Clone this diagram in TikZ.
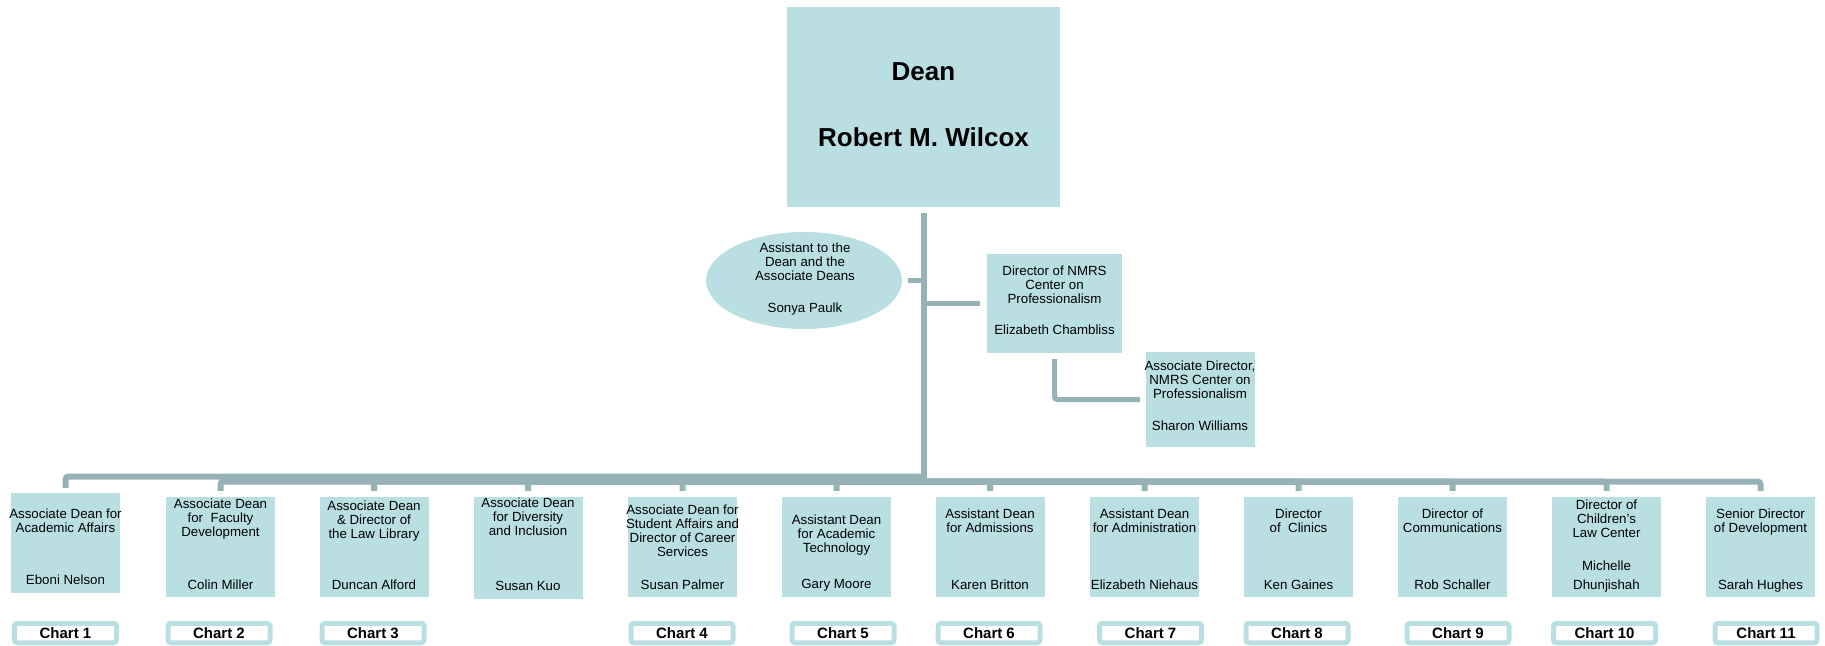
\documentclass[tikz,border=0pt]{standalone}
\usepackage{fontspec}
\setmainfont{Liberation Sans}
\usepackage{tikz}
\usetikzlibrary{calc,shapes.geometric}
\definecolor{boxfill}{RGB}{186,223,227}
\definecolor{linkgray}{RGB}{149,179,183}
\tikzset{
	unit/.style={fill=boxfill, minimum width=109bp, minimum height=100bp, inner sep=0pt},
	ttl/.style={anchor=north, align=center, inner sep=0pt, font=\fontsize{13.3bp}{14.3bp}\selectfont},
	chart/.style={draw=boxfill, fill=white, line width=5bp, rounded corners=3bp, minimum width=102bp, minimum height=19.5bp, inner sep=0pt, font=\fontsize{15bp}{18bp}\selectfont\bfseries},
	link/.style={draw=linkgray, line width=6bp, rounded corners=3bp},
	sidelink/.style={draw=linkgray, line width=5bp, rounded corners=3bp}
}

\begin{document}
\begin{tikzpicture}[x=1bp, y=-1bp]
			%%%%% START %%%%%
			\useasboundingbox (0,0) rectangle (1825,646);
			
			\node[fill=boxfill, minimum width=273bp, minimum height=200bp, inner sep=0pt] (dean) at (923.5,107) {};
			\node[anchor=base, inner sep=0pt, font=\fontsize{26bp}{30bp}\selectfont\bfseries] (deant) at (923.5,80.3) {Dean};
			\node[anchor=base, inner sep=0pt, font=\fontsize{26bp}{30bp}\selectfont\bfseries] (deann) at (923.5,146.3) {Robert M. Wilcox};
			
			\coordinate (bendA) at (923.5,476.5);
			\coordinate (bendB) at (923.5,481.5);
			
			\node[ellipse, fill=boxfill, minimum width=196bp, minimum height=97bp, inner sep=0pt] (asst) at (804,280.5) {};
			\node[ttl] (asstt) at (805,242.2) {Assistant to the\\Dean and the\\Associate Deans};
			\node[ttl] (asstn) at (805,302.2) {Sonya Paulk};
			
			\node[fill=boxfill, minimum width=135bp, minimum height=99bp, inner sep=0pt] (nmrs) at (1054.5,303.5) {};
			\node[ttl] (nmrst) at (1054.5,265.2) {Director of NMRS\\Center on\\Professionalism};
			\node[ttl] (nmrsn) at (1054.5,324.2) {Elizabeth Chambliss};
			
			\node[fill=boxfill, minimum width=109bp, minimum height=95bp, inner sep=0pt] (adir) at (1200.5,399.5) {};
			\node[ttl] (adirt) at (1200,360.2) {Associate Director,\\NMRS Center on\\Professionalism};
			\node[ttl] (adirn) at (1200,420.2) {Sharon Williams};
			
			\draw[link, shorten <=6bp] (dean.south) -- (bendB);
			\draw[sidelink, shorten <=6bp] (asst.east) -- (asst.east -| dean.south);
			\draw[sidelink, shorten <=7bp] (nmrs.west) -- (nmrs.west -| dean.south);
			\draw[sidelink, shorten <=6bp, shorten >=6bp] (nmrs.south) |- (adir.west);
			
			%%%%% UNITS %%%%%
			
			\node[unit] (u1) at (65.5,543) {};
			\node[ttl] (u1t) at (65.5,508.2) {Associate Dean for\\Academic Affairs};
			\node[ttl] (u1n) at (65.5,574.2) {Eboni Nelson};
			
			\node[unit] (u2) at (220.5,547) {};
			\node[ttl] (u2t) at (220.5,498.2) {Associate Dean\\for\ \ Faculty\\Development};
			\node[ttl] (u2n) at (220.5,579.2) {Colin Miller};
			
			\node[unit] (u3) at (374,547) {};
			\node[ttl] (u3t) at (374,500.2) {Associate Dean\\\& Director of\\the Law Library};
			\node[ttl] (u3n) at (374,579.2) {Duncan Alford};
			
			\node[unit, minimum height=102bp] (u4) at (528,548) {};
			\node[ttl] (u4t) at (528,497.2) {Associate Dean\\for Diversity\\and Inclusion};
			\node[ttl] (u4n) at (528,581.2) {Susan Kuo};
			
			\node[unit] (u5) at (682.5,547) {};
			\node[ttl] (u5t) at (682.5,504.2) {Associate Dean for\\Student Affairs and\\Director of Career\\Services};
			\node[ttl] (u5n) at (682.5,579.2) {Susan Palmer};
			
			\node[unit] (u6) at (836.5,547) {};
			\node[ttl] (u6t) at (836.5,514.2) {Assistant Dean\\for Academic\\Technology};
			\node[ttl] (u6n) at (836.5,579.2) {Gary Moore};
			
			\node[unit] (u7) at (990,547) {};
			\node[ttl] (u7t) at (990,508.2) {Assistant Dean\\for Admissions};
			\node[ttl] (u7n) at (990,579.2) {Karen Britton};
			
			\node[unit] (u8) at (1144.5,547) {};
			\node[ttl] (u8t) at (1144.5,508.2) {Assistant Dean\\for Administration};
			\node[ttl] (u8n) at (1144.5,579.2) {Elizabeth Niehaus};
			
			\node[unit] (u9) at (1298.5,547) {};
			\node[ttl] (u9t) at (1298.5,508.2) {Director\\of\ \ Clinics};
			\node[ttl] (u9n) at (1298.5,579.2) {Ken Gaines};
			
			\node[unit] (u10) at (1452.5,547) {};
			\node[ttl] (u10t) at (1452.5,508.2) {Director of\\Communications};
			\node[ttl] (u10n) at (1452.5,579.2) {Rob Schaller};
			
			\node[unit] (u11) at (1606.5,547) {};
			\node[ttl] (u11t) at (1606.5,499.2) {Director of\\Children’s\\Law Center};
			\node[ttl] (u11n) at (1606.5,560.2) {Michelle\\[4.7bp]Dhunjishah};
			
			\node[unit] (u12) at (1760.5,547) {};
			\node[ttl] (u12t) at (1760.5,508.2) {Senior Director\\of Development};
			\node[ttl] (u12n) at (1760.5,579.2) {Sarah Hughes};
			
			\draw[link, shorten >=5bp] (bendA) -| (u1.north);
			\draw[link, shorten >=6bp] (bendB) -| (u2.north);
			\draw[link, shorten >=6bp] (bendB) -| (u3.north);
			\draw[link, shorten >=6bp] (bendB) -| (u4.north);
			\draw[link, shorten >=6bp] (bendB) -| (u5.north);
			\draw[link, shorten >=6bp] (bendB) -| (u6.north);
			\draw[link, shorten >=6bp] (bendB) -| (u7.north);
			\draw[link, shorten >=6bp] (bendB) -| (u8.north);
			\draw[link, shorten >=6bp] (bendB) -| (u9.north);
			\draw[link, shorten >=6bp] (bendB) -| (u10.north);
			\draw[link, shorten >=6bp] (bendB) -| (u11.north);
			\draw[link, shorten >=6bp] (bendB) -| (u12.north);
			
			%%%%% CHARTS %%%%%
			
			\node[chart] (ch1) at (65.5,633) {Chart 1};
			\node[chart] (ch2) at (219,633) {Chart 2};
			\node[chart] (ch3) at (373,633) {Chart 3};
			\node[chart] (ch4) at (682,633) {Chart 4};
			\node[chart] (ch5) at (843,633) {Chart 5};
			\node[chart] (ch6) at (989,633) {Chart 6};
			\node[chart] (ch7) at (1150.5,633) {Chart 7};
			\node[chart] (ch8) at (1297,633) {Chart 8};
			\node[chart] (ch9) at (1458,633) {Chart 9};
			\node[chart] (ch10) at (1604.5,633) {Chart 10};
			\node[chart] (ch11) at (1766,633) {Chart 11};
			
			%%%%% END %%%%%
\end{tikzpicture}
\end{document}
